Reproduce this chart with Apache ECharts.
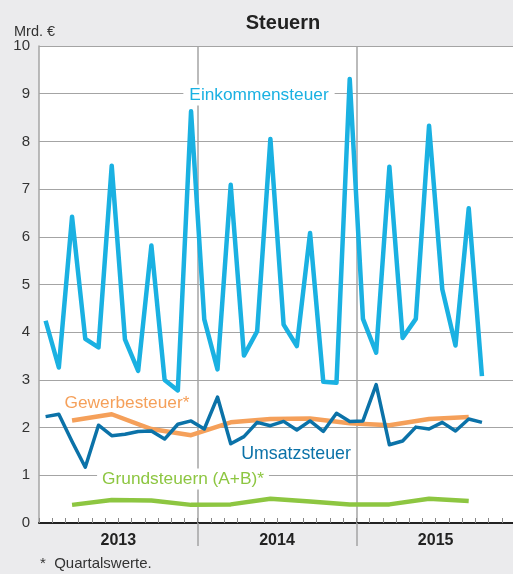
<!DOCTYPE html>
<html>
<head>
<meta charset="utf-8">
<script src="https://cdn.jsdelivr.net/npm/echarts@6/dist/echarts.min.js"></script>
<style>
html,body{margin:0;padding:0;background:#ebebed;overflow:hidden;}
#c{width:513px;height:574px;}
</style>
</head>
<body>
<div id="c"></div>
<script>
// Monthly categories Jan 2013 - Dec 2015
const months = [];
for (let y = 2013; y <= 2015; y++) for (let m = 1; m <= 12; m++) months.push(y + '-' + (m < 10 ? '0' + m : m));
const years = ['2013', '2014', '2015'];
const yTicks = [0, 1, 2, 3, 4, 5, 6, 7, 8, 9, 10];

// Einkommensteuer (monthly, Mrd. €), Jan 2013 - Oct 2015
const einkommensteuer = [4.24, 3.26, 6.42, 3.86, 3.68, 7.49, 3.85, 3.19, 5.82, 3.0, 2.78, 8.63,
  4.27, 3.22, 7.09, 3.51, 4.02, 8.05, 4.16, 3.71, 6.08, 2.96, 2.94, 9.31,
  4.28, 3.57, 7.47, 3.88, 4.28, 8.33, 4.9, 3.72, 6.6, 3.08];
// Umsatzsteuer (monthly)
const umsatzsteuer = [2.23, 2.28, 1.71, 1.17, 2.05, 1.83, 1.86, 1.92, 1.93, 1.76, 2.07, 2.14,
  1.97, 2.64, 1.66, 1.81, 2.11, 2.04, 2.13, 1.95, 2.14, 1.92, 2.30, 2.13,
  2.14, 2.90, 1.64, 1.72, 2.01, 1.97, 2.11, 1.93, 2.18, 2.11];
// Gewerbesteuer (quarterly, Q1 2013 - Q3 2015)
const gewerbesteuer = [2.15, 2.28, 1.97, 1.84, 2.11, 2.18, 2.19, 2.09, 2.05, 2.18, 2.22];
// Grundsteuern A+B (quarterly)
const grundsteuern = [0.38, 0.48, 0.47, 0.38, 0.39, 0.51, 0.45, 0.39, 0.39, 0.51, 0.46];

function quarterToMonthly(q) {
  const out = months.map(() => null);
  q.forEach((v, i) => { out[i * 3 + 2] = v; });
  return out;
}

const grey = '#a4a4a4';
const chart = echarts.init(document.getElementById('c'), null, {renderer: 'canvas'});
chart.setOption({
  backgroundColor: '#ebebed',
  animation: false,
  title: {
    text: 'Steuern', left: 278, top: 8, textAlign: 'center',
    textStyle: {fontFamily: 'Liberation Sans', fontSize: 20, fontWeight: 'bold', color: '#222'}
  },
  grid: {left: 39, width: 476, top: 46, bottom: 51, show: true, backgroundColor: '#fff', borderWidth: 0,
    outerBoundsMode: 'none', containLabel: false},
  xAxis: [{
    type: 'category', data: months, boundaryGap: true, position: 'bottom',
    axisLine: {show: true, lineStyle: {color: '#222', width: 2}},
    axisTick: {show: true, inside: true, length: 5, interval: 0, lineStyle: {color: '#888', width: 1}},
    axisLabel: {show: false},
    splitLine: {show: false}
  }, {
    type: 'category', data: years, boundaryGap: true, position: 'bottom',
    axisLine: {show: false},
    axisTick: {show: true, length: 23, interval: function (i) { return i > 0; }, lineStyle: {color: grey, width: 1.5}},
    axisLabel: {show: true, margin: 10, fontFamily: 'Liberation Sans', fontSize: 16, fontWeight: 'bold', color: '#222'},
    splitLine: {show: true, interval: function (i) { return i > 0; }, lineStyle: {color: grey, width: 1.5}}
  }],
  yAxis: {
    type: 'value', min: yTicks[0], max: yTicks[yTicks.length - 1], interval: 1,
    axisLine: {show: true, lineStyle: {color: grey, width: 1.5}},
    axisTick: {show: false},
    axisLabel: {margin: 9, fontFamily: 'Liberation Sans', fontSize: 15, color: '#333'},
    splitLine: {show: true, lineStyle: {color: grey, width: 1.2}}
  },
  graphic: [
    {type: 'text', left: 14, top: 24, z: 100, style: {text: 'Mrd. €', font: '14.5px "Liberation Sans"', fill: '#333'}},
    {type: 'text', left: 40, top: 556, z: 100, style: {text: '*  Quartalswerte.', font: '15px "Liberation Sans"', fill: '#333'}},
    {type: 'text', x: 259, y: 95, z: 100, style: {text: 'Einkommensteuer', font: '17.3px "Liberation Sans"', fill: '#1ab1e2', align: 'center', verticalAlign: 'middle', backgroundColor: '#fff', padding: [2, 6]}},
    {type: 'text', x: 127, y: 403, z: 100, style: {text: 'Gewerbesteuer*', font: '17.3px "Liberation Sans"', fill: '#f5a05a', align: 'center', verticalAlign: 'middle'}},
    {type: 'text', x: 296, y: 454, z: 100, style: {text: 'Umsatzsteuer', font: '17.8px "Liberation Sans"', fill: '#0b72a8', align: 'center', verticalAlign: 'middle'}},
    {type: 'text', x: 183, y: 479, z: 100, style: {text: 'Grundsteuern (A+B)*', font: '17.3px "Liberation Sans"', fill: '#8dc641', align: 'center', verticalAlign: 'middle', backgroundColor: '#fff', padding: [2, 5]}}
  ],
  series: [
    {name: 'Grundsteuern (A+B)*', type: 'line', data: quarterToMonthly(grundsteuern), connectNulls: true, showSymbol: false, symbol: 'none',
      lineStyle: {color: '#8dc641', width: 4.5, join: 'round'}, z: 3},
    {name: 'Gewerbesteuer*', type: 'line', data: quarterToMonthly(gewerbesteuer), connectNulls: true, showSymbol: false, symbol: 'none',
      lineStyle: {color: '#f5a05a', width: 4.5, join: 'round'}, z: 4},
    {name: 'Umsatzsteuer', type: 'line', data: umsatzsteuer, showSymbol: false, symbol: 'none',
      lineStyle: {color: '#0b72a8', width: 3.5, join: 'round'}, z: 5},
    {name: 'Einkommensteuer', type: 'line', data: einkommensteuer, showSymbol: false, symbol: 'none',
      lineStyle: {color: '#1ab1e2', width: 4.5, join: 'round'}, z: 6}
  ]
});
</script>
</body>
</html>
